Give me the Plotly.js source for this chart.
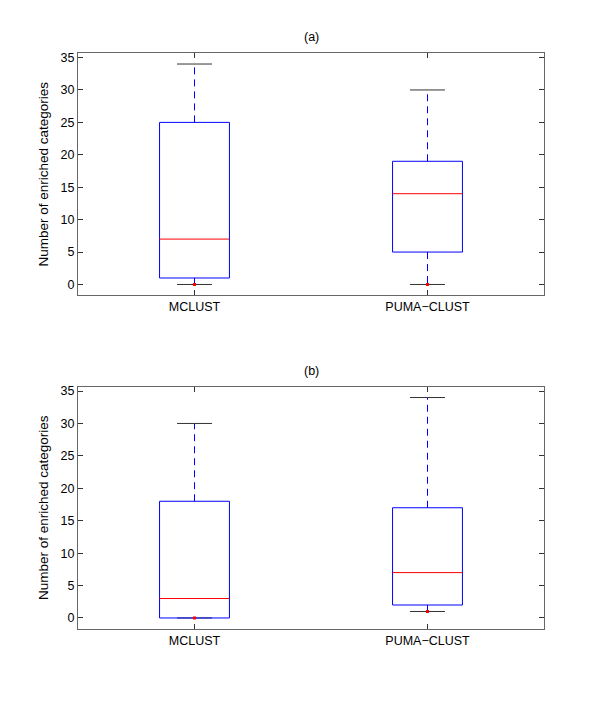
<!DOCTYPE html>
<html>
<head>
<meta charset="utf-8">
<script src="https://cdn.plot.ly/plotly-3.0.1.min.js"></script>
<style>html,body{margin:0;padding:0;background:#fff;}#chart{width:600px;height:708px;}</style>
</head>
<body>
<div id="chart"></div>
<script>
// ---- data ----
const categories = ['MCLUST', 'PUMA\u2212CLUST'];
const categoryPos = [1, 2];
const panelTitles = ['(a)', '(b)'];
const yTitle = 'Number of enriched categories';

// panel (a)
const lowerA = [0, 0];
const q1A = [1, 5];
const medianA = [7, 14];
const q3A = [25, 19];
const upperA = [34, 30];
const outliersA = [[0], [0]];

// panel (b)
const lowerB = [0, 1];
const q1B = [0, 2];
const medianB = [3, 7];
const q3B = [18, 17];
const upperB = [30, 34];
const outliersB = [[0], [1]];

// ---- drawing ----
const boxHalf = 0.15, capHalf = 0.075;
const traces = [];
function addPanel(lower, q1, med, q3, upper, outl, xa, ya) {
  for (let i = 0; i < categories.length; i++) {
    const c = categoryPos[i];
    traces.push({type:'scatter', mode:'lines', xaxis:xa, yaxis:ya, hoverinfo:'skip', showlegend:false,
      x:[c, c, null, c, c], y:[q3[i], upper[i], null, q1[i], lower[i]],
      line:{color:'#0000ff', width:1, dash:'7px,5px'}});
    traces.push({type:'scatter', mode:'lines', xaxis:xa, yaxis:ya, hoverinfo:'skip', showlegend:false,
      x:[c-capHalf, c+capHalf, null, c-capHalf, c+capHalf], y:[upper[i], upper[i], null, lower[i], lower[i]],
      line:{color:'#333', width:1}});
    traces.push({type:'scatter', mode:'lines', xaxis:xa, yaxis:ya, hoverinfo:'skip', showlegend:false,
      x:[c-boxHalf, c+boxHalf, c+boxHalf, c-boxHalf, c-boxHalf], y:[q1[i], q1[i], q3[i], q3[i], q1[i]],
      line:{color:'#0000ff', width:1}});
    traces.push({type:'scatter', mode:'lines', xaxis:xa, yaxis:ya, hoverinfo:'skip', showlegend:false,
      x:[c-boxHalf, c+boxHalf], y:[med[i], med[i]],
      line:{color:'#ff0000', width:1}});
    traces.push({type:'scatter', mode:'markers', xaxis:xa, yaxis:ya, hoverinfo:'skip', showlegend:false,
      x:outl[i].map(() => c), y:outl[i],
      marker:{color:'#ff0000', size:3, symbol:'square'}});
  }
}
addPanel(lowerA, q1A, medianA, q3A, upperA, outliersA, 'x', 'y');
addPanel(lowerB, q1B, medianB, q3B, upperB, outliersB, 'x2', 'y2');

const font = {family:'Liberation Sans, Arial, Helvetica, sans-serif', size:12.5, color:'#000'};
const titleFont = {family:'Liberation Sans, Arial, Helvetica, sans-serif', size:13.5, color:'#000'};
function xAxis(anchor) {
  return {anchor:anchor, range:[0.5, 2.5], tickvals:categoryPos, ticktext:categories,
    ticks:'inside', ticklen:5, tickcolor:'#333', showline:true, linecolor:'#666', linewidth:1,
    mirror:'allticks', showgrid:false, zeroline:false, tickfont:font, fixedrange:true};
}
function yAxis(anchor, domain) {
  return {anchor:anchor, domain:domain, range:[-1.7, 35.7], dtick:5, tick0:0,
    ticks:'inside', ticklen:5, tickcolor:'#333', showline:true, linecolor:'#666', linewidth:1,
    mirror:'allticks', showgrid:false, zeroline:false, tickfont:font,
    title:{text:yTitle, font:titleFont, standoff:8}, fixedrange:true};
}

const layout = {
  width:600, height:708,
  margin:{l:78, r:56, t:53, b:79},
  paper_bgcolor:'#fff', plot_bgcolor:'#fff',
  font:font, showlegend:false,
  xaxis:Object.assign(xAxis('y'), {domain:[0,1]}),
  yaxis:yAxis('x', [0.579, 1]),
  xaxis2:Object.assign(xAxis('y2'), {domain:[0,1]}),
  yaxis2:yAxis('x2', [0, 0.421]),
  annotations:[
    {text:panelTitles[0], xref:'x domain', yref:'y domain', x:0.5, y:1, yshift:7, showarrow:false, xanchor:'center', yanchor:'bottom', font:font},
    {text:panelTitles[1], xref:'x2 domain', yref:'y2 domain', x:0.5, y:1, yshift:7, showarrow:false, xanchor:'center', yanchor:'bottom', font:font}
  ]
};
Plotly.newPlot('chart', traces, layout, {displayModeBar:false, staticPlot:true});
</script>
</body>
</html>
